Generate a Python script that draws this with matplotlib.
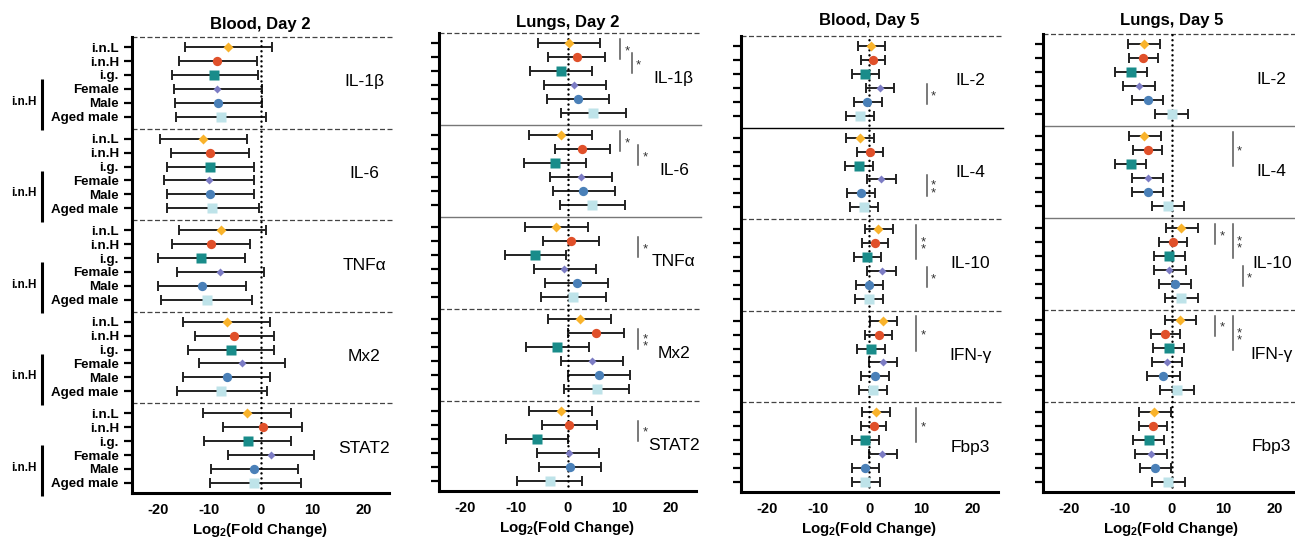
import numpy as np
import matplotlib
matplotlib.use('Agg')
import matplotlib.pyplot as plt
import matplotlib.transforms as mtransforms

plt.rcParams['font.family'] = ['Liberation Sans', 'DejaVu Sans']
plt.rcParams['axes.unicode_minus'] = False
plt.rcParams['mathtext.fontset'] = 'custom'
plt.rcParams['mathtext.rm'] = 'Liberation Sans'
plt.rcParams['mathtext.bf'] = 'Liberation Sans:bold'

# groups shown on every panel (one row each)
groups = ['i.n.L', 'i.n.H', 'i.g.', 'Female', 'Male', 'Aged male']
colors = ['#F9B32B', '#E0502A', '#198C8A', '#7C7CC4', '#4A80B8', '#BEE3E9']
markers = ['D', 'o', 's', 'D', 'o', 's']
msizes = [4.6, 6.7, 6.5, 4.1, 6.7, 6.9]

titles = ['Blood, Day 2', 'Lungs, Day 2', 'Blood, Day 5', 'Lungs, Day 5']
genes_d2 = ['IL-1β', 'IL-6', 'TNFα', 'Mx2', 'STAT2']
genes_d5 = ['IL-2', 'IL-4', 'IL-10', 'IFN-γ', 'Fbp3']

# log2 fold change: mean, lower and upper bound (rows = genes, cols = groups)
blood_d2_mean = [[-6.3, -8.4, -9.0, -8.4, -8.3, -7.7],
                 [-11.2, -9.9, -9.8, -10.1, -9.9, -9.4],
                 [-7.6, -9.7, -11.6, -7.9, -11.4, -10.5],
                 [-6.6, -5.2, -5.8, -3.6, -6.6, -7.7],
                 [-2.6, 0.4, -2.5, 2.1, -1.2, -1.2]]
blood_d2_lo = [[-14.7, -15.8, -17.3, -16.8, -16.6, -16.4],
               [-19.5, -17.5, -18.2, -18.8, -18.2, -18.1],
               [-15.9, -17.3, -20.0, -16.3, -19.9, -19.3],
               [-15.0, -12.7, -14.1, -11.9, -15.0, -16.3],
               [-11.1, -7.2, -11.0, -6.3, -9.7, -9.9]]
blood_d2_hi = [[2.3, -0.6, -0.45, 0.2, 0.2, 1.1],
               [-2.6, -2.2, -1.3, -1.2, -1.3, -0.3],
               [1.0, -2.1, -3.0, 0.65, -2.9, -1.7],
               [1.9, 2.6, 2.7, 4.8, 1.9, 1.3],
               [5.9, 8.1, 6.0, 10.5, 7.2, 7.9]]

lungs_d2_mean = [[0.3, 1.8, -1.35, 1.35, 2.1, 4.9],
                 [-1.2, 2.8, -2.5, 2.6, 3.1, 4.7],
                 [-2.2, 0.65, -6.3, -0.6, 1.8, 1.0],
                 [2.4, 5.5, -2.1, 4.8, 6.2, 5.7],
                 [-1.3, 0.3, -5.9, 0.2, 0.45, -3.4]]
lungs_d2_lo = [[-5.7, -3.7, -7.2, -4.6, -3.9, -1.2],
               [-7.4, -2.5, -8.5, -3.4, -2.8, -1.4],
               [-8.2, -4.8, -12.2, -6.5, -4.3, -5.2],
               [-3.7, 0.0, -8.0, -1.2, 0.1, -0.7],
               [-7.4, -5.0, -11.9, -5.9, -5.6, -9.8]]
lungs_d2_hi = [[6.3, 7.2, 4.8, 7.5, 8.1, 11.4],
               [4.8, 8.3, 3.6, 8.6, 9.2, 11.1],
               [3.9, 6.1, -0.26, 5.5, 7.8, 7.5],
               [8.5, 10.9, 4.1, 10.8, 12.2, 12.0],
               [4.8, 5.7, 0.1, 6.2, 6.5, 2.8]]

blood_d5_mean = [[0.3, 0.7, -0.8, 2.0, -0.4, -1.8],
                 [-1.8, 0.1, -2.0, 2.3, -1.6, -1.0],
                 [1.7, 1.0, -0.5, 2.4, 0.0, -0.1],
                 [2.6, 1.8, 0.3, 2.6, 1.0, 0.7],
                 [1.2, 0.8, -0.8, 2.5, -0.8, -0.8]]
blood_d5_lo = [[-2.3, -1.7, -3.5, -0.7, -3.0, -4.5],
               [-4.5, -2.4, -4.8, -0.5, -4.3, -3.8],
               [-0.8, -1.4, -3.0, -0.4, -2.7, -2.8],
               [0.1, -0.8, -2.4, -0.1, -1.6, -2.0],
               [-1.5, -1.7, -3.4, -0.1, -3.4, -3.4]]
blood_d5_hi = [[3.0, 3.1, 1.8, 4.7, 2.4, 0.9],
               [0.8, 2.6, 0.6, 5.1, 1.0, 1.7],
               [4.5, 3.6, 2.2, 5.2, 2.7, 2.7],
               [5.4, 4.3, 3.0, 5.4, 3.7, 3.5],
               [3.9, 3.3, 1.9, 5.4, 1.9, 2.0]]

lungs_d5_mean = [[-5.3, -5.5, -7.9, -6.3, -4.6, 0.0],
                 [-5.3, -4.6, -7.9, -4.6, -4.6, -0.6],
                 [1.9, 0.2, -0.4, -0.4, 0.65, 1.9],
                 [1.7, -1.2, -0.5, -0.9, -1.6, 1.0],
                 [-3.5, -3.6, -4.4, -4.0, -3.2, -0.6]]
lungs_d5_lo = [[-8.4, -8.2, -11.0, -9.4, -7.6, -3.2],
               [-8.2, -7.4, -11.0, -7.7, -7.7, -3.8],
               [-1.1, -2.5, -3.4, -3.4, -2.4, -1.3],
               [-1.3, -4.0, -3.6, -3.8, -4.7, -2.2],
               [-6.4, -6.4, -7.5, -7.1, -6.2, -3.7]]
lungs_d5_hi = [[-2.2, -2.7, -4.8, -3.3, -1.6, 3.3],
               [-2.1, -1.8, -4.9, -1.6, -1.6, 2.5],
               [5.1, 3.0, 2.7, 2.8, 3.8, 5.2],
               [4.8, 1.6, 2.5, 2.1, 1.6, 4.3],
               [-0.1, -0.8, -1.4, -0.9, -0.1, 2.7]]

# significance: (gene, group a, group b, stars, bracket level)
blood_d2_sig = []
lungs_d2_sig = [(0, 0, 1, '*', 0), (0, 1, 2, '*', 1), (1, 0, 1, '*', 0), (1, 1, 2, '*', 2),
                (2, 1, 2, '*', 2), (3, 1, 2, '**', 2), (4, 1, 2, '*', 2)]
blood_d5_sig = [(0, 3, 4, '*', 1), (1, 3, 4, '**', 1), (2, 0, 2, '**', 0), (2, 3, 4, '*', 1),
                (3, 0, 2, '*', 0), (4, 0, 2, '*', 0)]
lungs_d5_sig = [(1, 0, 2, '*', 1), (2, 0, 1, '*', 0), (2, 0, 2, '**', 1), (2, 3, 4, '*', 2),
                (3, 0, 1, '*', 0), (3, 0, 2, '**', 1)]

panels = [
    (blood_d2_mean, blood_d2_lo, blood_d2_hi, genes_d2, blood_d2_sig),
    (lungs_d2_mean, lungs_d2_lo, lungs_d2_hi, genes_d2, lungs_d2_sig),
    (blood_d5_mean, blood_d5_lo, blood_d5_hi, genes_d5, blood_d5_sig),
    (lungs_d5_mean, lungs_d5_lo, lungs_d5_hi, genes_d5, lungs_d5_sig),
]

# layout in pixels (figure is 1295 x 540)
W, H = 1295., 540.
lefts = [132, 439, 741, 1043]
tops = [37, 33, 36, 34]
bottoms = [493, 491, 492, 492]
title_y = [24, 22, 21, 20]
label_x = [20.2, 20.7, 19.6, 19.5]
bracket_x = [[0], [10.3, 12.5, 13.8], [9.1, 11.2], [8.5, 11.9, 13.9]]
# separator style between genes: 'd' dashed, 'g' grey solid, 'k' black solid
sep_styles = [['d', 'd', 'd', 'd'], ['g', 'g', 'd', 'd'], ['k', 'd', 'd', 'd'], ['g', 'g', 'd', 'd']]
line_styles = {'d': dict(color='#444444', lw=0.9, ls=(0, (4, 2))),
               'g': dict(color='#777777', lw=1.0, ls='-'),
               'k': dict(color='black', lw=1.0, ls='-')}

P = 6.55  # vertical pitch of one gene block, in rows
nrow = len(groups)
ngene = 5
ytop = -0.72
ybot = (ngene - 1) * P + nrow - 1 + 0.72

fig = plt.figure(figsize=(W / 100, H / 100), dpi=100)

for p, (mean, lo, hi, genes, sig) in enumerate(panels):
    ax = fig.add_axes([lefts[p] / W, 1 - bottoms[p] / H, 257 / W, (bottoms[p] - tops[p]) / H])
    mean = np.array(mean)
    lo = np.array(lo)
    hi = np.array(hi)

    yticks = []
    for g in range(ngene):
        base = g * P
        for r in range(nrow):
            y = base + r
            yticks.append(y)
            ax.errorbar(mean[g, r], y, xerr=[[mean[g, r] - lo[g, r]], [hi[g, r] - mean[g, r]]],
                        fmt='none', ecolor='#222222', elinewidth=1.4, capsize=3.6, capthick=1.4,
                        zorder=2)
            ax.plot(mean[g, r], y, marker=markers[r], ms=msizes[r], color=colors[r],
                    mec='none', ls='none', zorder=4)
        ax.text(label_x[p], base + 2.5, genes[g], ha='center', va='center', fontsize=12.5)
        # separator below this block
        if g < ngene - 1:
            ax.plot([-25, 26], [base + nrow - 1 + 0.86] * 2, clip_on=False, zorder=1,
                    **line_styles[sep_styles[p][g]])
    # top dashed line
    ax.plot([-25, 26], [ytop, ytop], clip_on=False, zorder=1, **line_styles['d'])

    # significance brackets
    for (g, a, b, stars, lev) in sig:
        bx = bracket_x[p][lev]
        y0 = g * P + a - 0.3
        y1 = g * P + b + 0.15
        ax.plot([bx, bx], [y0, y1], color='#555555', lw=1.1, zorder=3)
        if stars == '*':
            ax.text(bx + 0.8, (y0 + y1) / 2 + 0.15, '*', fontsize=9.5, color='#333333',
                    ha='left', va='center')
        else:
            ax.text(bx + 0.8, (y0 + y1) / 2 + 0.3, '*\n*', fontsize=9.5, color='#333333',
                    ha='left', va='center', linespacing=0.5)

    ax.axvline(0, color='black', lw=1.8, ls=(0, (0.01, 2.0)), dash_capstyle='round', zorder=3)

    ax.set_xlim(-25, 25)
    ax.set_ylim(ybot, ytop)
    ax.set_xticks([-20, -10, 0, 10, 20])
    ax.set_xticklabels(['-20', '-10', '0', '10', '20'], fontweight='bold', fontsize=10.5)
    ax.set_yticks(yticks)
    if p == 0:
        ax.set_yticklabels(groups * ngene, fontweight='bold', fontsize=9.6)
    else:
        ax.set_yticklabels([])
    ax.tick_params(axis='y', length=6, width=1.6, pad=3.5, direction='out')
    ax.tick_params(axis='x', length=0, pad=7)
    for s in ['top', 'right']:
        ax.spines[s].set_visible(False)
    for s in ['left', 'bottom']:
        ax.spines[s].set_linewidth(2.2)
    ax.set_xlabel(r'Log$_\mathbf{2}$(Fold Change)', fontweight='bold', fontsize=10.8, labelpad=3)

    fig.text((lefts[p] + 128.5) / W, 1 - title_y[p] / H, titles[p], ha='center', va='center',
             fontweight='bold', fontsize=12)

    if p == 0:
        trans = mtransforms.blended_transform_factory(fig.transFigure, ax.transData)
        for g in range(ngene):
            base = g * P
            ax.text(23.5 / W, base + 3.9, 'i.n.H', transform=trans, ha='center', va='center',
                    fontweight='bold', fontsize=8.5)
            ax.plot([42 / W, 42 / W], [base + 2.3, base + 5.95], transform=trans, color='black',
                    lw=2.2, clip_on=False, solid_capstyle='butt')

fig.savefig('out.png', dpi=100)
